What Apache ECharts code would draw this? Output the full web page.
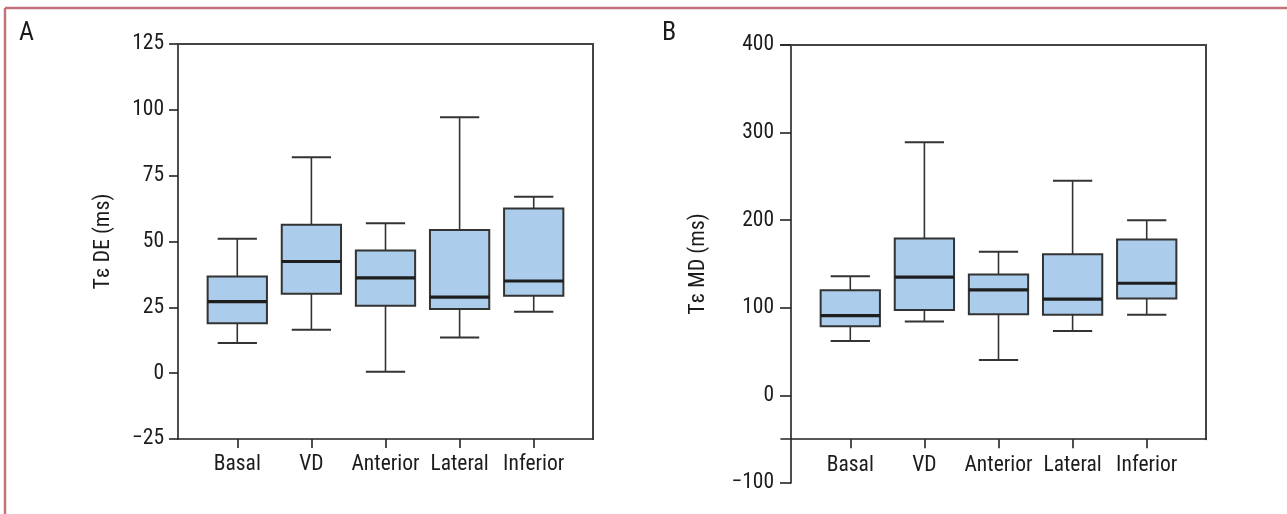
<!DOCTYPE html>
<html>
<head>
<meta charset="utf-8">
<script src="https://cdn.jsdelivr.net/npm/echarts@6/dist/echarts.min.js"></script>
<style>
html,body{margin:0;padding:0;background:#fff;}
#chart{width:1287px;height:514px;}
</style>
</head>
<body>
<div id="chart"></div>
<script>
// ---------- data ----------
const categories = ['Basal', 'VD', 'Anterior', 'Lateral', 'Inferior'];
// each entry: [min, Q1, median, Q3, max]
const panelA_DE = [
  [11.5, 19.0, 27.2, 36.7, 51.0],
  [16.5, 30.2, 42.4, 56.4, 82.0],
  [0.5, 25.6, 36.2, 46.6, 56.9],
  [13.5, 24.4, 28.9, 54.4, 97.2],
  [23.3, 29.4, 35.0, 62.5, 67.0]
];
const panelB_MD = [
  [62, 79, 91, 120, 136],
  [84.5, 97.5, 135, 179, 289],
  [40.5, 92.5, 120.5, 138, 164],
  [73.5, 92, 110, 161, 245],
  [92, 110.5, 128, 178, 200]
];
const yTicksA = { min: -25, max: 125, step: 25 };
const yTicksB = { min: -100, max: 400, step: 100, frameMin: -50 };
const nameA = 'Tε DE (ms)';
const nameB = 'Tε MD (ms)';

// ---------- styles ----------
const FONT = '"Liberation Sans Narrow", "Noto Sans Condensed", "Roboto Condensed", "DejaVu Sans Condensed", sans-serif';
const TXT = '#1c1c1c';
const BOX_FILL = '#abcdeb';
const FS = 21.5;

function renderBox(params, api) {
  const i = api.value(0);
  const lo = api.coord([i, api.value(1)]);
  const q1 = api.coord([i, api.value(2)]);
  const md = api.coord([i, api.value(3)]);
  const q3 = api.coord([i, api.value(4)]);
  const hi = api.coord([i, api.value(5)]);
  const band = api.size([1, 0])[0];
  const bw = band * 0.8, cw = band * 0.53;
  const x = lo[0];
  const ls = { stroke: '#333', lineWidth: 1.6 };
  return {
    type: 'group',
    children: [
      { type: 'line', shape: { x1: x, y1: hi[1], x2: x, y2: q3[1] }, style: ls },
      { type: 'line', shape: { x1: x, y1: q1[1], x2: x, y2: lo[1] }, style: ls },
      { type: 'line', shape: { x1: x - cw / 2, y1: hi[1], x2: x + cw / 2, y2: hi[1] }, style: { stroke: '#333', lineWidth: 2 } },
      { type: 'line', shape: { x1: x - cw / 2, y1: lo[1], x2: x + cw / 2, y2: lo[1] }, style: { stroke: '#333', lineWidth: 2 } },
      { type: 'rect', shape: { x: x - bw / 2, y: q3[1], width: bw, height: q1[1] - q3[1] }, style: { fill: BOX_FILL, stroke: '#333', lineWidth: 2 } },
      { type: 'line', shape: { x1: x - bw / 2, y1: md[1], x2: x + bw / 2, y2: md[1] }, style: { stroke: '#1e1e1e', lineWidth: 3.2 } }
    ]
  };
}

function toSeriesData(arr) {
  return arr.map((r, i) => [i].concat(r));
}

// ---------- layout (px) ----------
const A = { left: 178, right: 593, top: 44, bottom: 439 };
const B = { left: 791, right: 1206, top: 45, bottomFrame: 439.2, bottomAxis: 483 };
const bandA = (A.right - A.left) / 5.6;
const bandB = (B.right - B.left) / 5.6;

const grids = [
  { left: A.left, top: A.top, width: A.right - A.left, height: A.bottom - A.top },
  { left: A.left + 0.3 * bandA, top: A.top, width: 5 * bandA, height: A.bottom - A.top },
  { left: B.left, top: B.top, width: B.right - B.left, height: B.bottomAxis - B.top },
  { left: B.left + 0.3 * bandB, top: B.top, width: 5 * bandB, height: B.bottomFrame - B.top },
  { left: B.left - 10, top: B.top, width: B.right - B.left + 10, height: B.bottomFrame - B.top }
].map(g => Object.assign({ containLabel: false, outerBoundsMode: 'none' }, g));

const hidden = { show: false };
const frameLine = { show: true, onZero: false, lineStyle: { color: '#444', width: 2 } };
const axisBlack = { show: true, onZero: false, lineStyle: { color: '#222', width: 1.6 } };

const catLabel = { margin: 15, fontSize: FS, color: TXT, fontFamily: FONT, interval: 0 };
const catTick = { show: true, alignWithLabel: true, length: 9, lineStyle: { color: '#222', width: 1.6 } };

const xAxes = [
  { gridIndex: 0, type: 'value', min: 0, max: 1, position: 'bottom', axisLine: axisBlack, axisTick: hidden, axisLabel: hidden, splitLine: hidden },
  { gridIndex: 0, type: 'value', min: 0, max: 1, position: 'top', axisLine: frameLine, axisTick: hidden, axisLabel: hidden, splitLine: hidden },
  { gridIndex: 1, type: 'category', data: categories, axisLine: { show: false, onZero: false }, axisTick: catTick, axisLabel: catLabel, splitLine: hidden },
  { gridIndex: 2, type: 'value', min: 0, max: 1, show: false },
  { gridIndex: 3, type: 'category', data: categories, axisLine: { show: false, onZero: false }, axisTick: catTick, axisLabel: catLabel, splitLine: hidden },
  { gridIndex: 4, type: 'value', min: 0, max: 1, position: 'bottom', axisLine: axisBlack, axisTick: hidden, axisLabel: hidden, splitLine: hidden },
  { gridIndex: 4, type: 'value', min: 0, max: 1, position: 'top', axisLine: frameLine, axisTick: hidden, axisLabel: hidden, splitLine: hidden }
];

const yLabel = { fontSize: FS, color: TXT, fontFamily: FONT, formatter: v => (v < 0 ? '\u2212' + Math.abs(v) : String(v)) };
const nameStyle = { fontSize: 22, color: TXT, fontFamily: FONT };

const yAxes = [
  { gridIndex: 0, type: 'value', min: yTicksA.min, max: yTicksA.max, interval: yTicksA.step, position: 'left',
    axisLine: axisBlack, axisTick: { show: true, length: 9, lineStyle: { color: '#222', width: 1.6 } },
    axisLabel: Object.assign({ margin: 14 }, yLabel), splitLine: hidden,
    name: nameA, nameLocation: 'middle', nameGap: 64, nameTextStyle: nameStyle },
  { gridIndex: 0, type: 'value', min: yTicksA.min, max: yTicksA.max, position: 'right', axisLine: frameLine, axisTick: hidden, axisLabel: hidden, splitLine: hidden },
  { gridIndex: 1, type: 'value', min: yTicksA.min, max: yTicksA.max, show: false, axisLine: { onZero: false }, splitLine: hidden },
  { gridIndex: 2, type: 'value', min: yTicksB.min, max: yTicksB.max, interval: yTicksB.step, position: 'left',
    axisLine: axisBlack, axisTick: { show: true, length: 11, lineStyle: { color: '#222', width: 1.6 } },
    axisLabel: Object.assign({ margin: 17 }, yLabel), splitLine: hidden,
    name: nameB, nameLocation: 'middle', nameGap: 82, nameTextStyle: nameStyle },
  { gridIndex: 3, type: 'value', min: yTicksB.frameMin, max: yTicksB.max, show: false, axisLine: { onZero: false }, splitLine: hidden },
  { gridIndex: 4, type: 'value', min: yTicksB.frameMin, max: yTicksB.max, position: 'right', axisLine: frameLine, axisTick: hidden, axisLabel: hidden, splitLine: hidden }
];

const option = {
  animation: false,
  backgroundColor: '#fff',
  textStyle: { fontFamily: FONT },
  grid: grids,
  xAxis: xAxes,
  yAxis: yAxes,
  graphic: [
    { type: 'line', shape: { x1: 5, y1: 8, x2: 1287, y2: 8 }, style: { stroke: '#c4727c', lineWidth: 2.5 } },
    { type: 'line', shape: { x1: 5, y1: 8, x2: 5, y2: 514 }, style: { stroke: '#c4727c', lineWidth: 2.5 } },
    { type: 'text', left: 19, top: 20, style: { text: 'A', fontSize: 26, fill: TXT, fontFamily: FONT } },
    { type: 'text', left: 662, top: 20, style: { text: 'B', fontSize: 26, fill: TXT, fontFamily: FONT } }
  ],
  series: [
    { type: 'custom', xAxisIndex: 2, yAxisIndex: 2, renderItem: renderBox,
      encode: { x: 0, y: [1, 2, 3, 4, 5] }, data: toSeriesData(panelA_DE), z: 5 },
    { type: 'custom', xAxisIndex: 4, yAxisIndex: 4, renderItem: renderBox,
      encode: { x: 0, y: [1, 2, 3, 4, 5] }, data: toSeriesData(panelB_MD), z: 5 }
  ]
};

const chart = echarts.init(document.getElementById('chart'), null, { renderer: 'canvas' });
chart.setOption(option);
</script>
</body>
</html>
